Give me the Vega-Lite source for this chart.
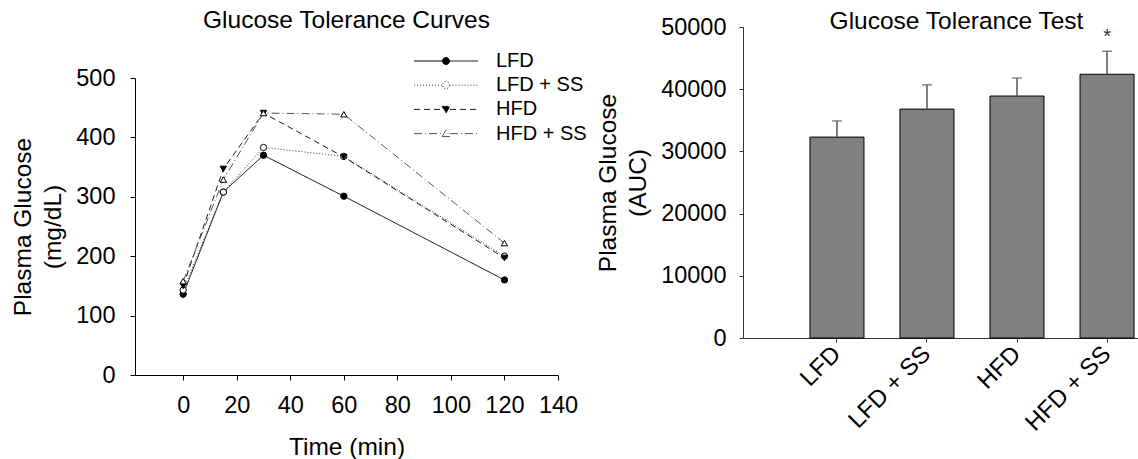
{
  "$schema": "https://vega.github.io/schema/vega-lite/v6.json",
  "background": "white",
  "padding": {"left": 10, "top": 7, "right": 0, "bottom": 0},
  "autosize": {"type": "pad"},
  "spacing": 17,
  "config": {
    "font": "Liberation Sans",
    "view": {"stroke": null},
    "axis": {"grid": false, "domainColor": "#000", "tickColor": "#000", "labelColor": "#000", "titleColor": "#000", "labelFontSize": 23.5, "titleFontSize": 24.5, "titleFontWeight": "normal", "tickSize": 5, "labelFont": "Liberation Sans", "titleFont": "Liberation Sans", "titleLineHeight": 30, "labelOverlap": false, "labelFlush": false},
    "title": {"fontSize": 24.5, "fontWeight": "normal", "color": "#000", "font": "Liberation Sans"},
    "legend": {"orient": "none", "legendX": 301, "legendY": 24, "symbolSize": 100, "labelFontSize": 20, "labelOffset": 40, "rowPadding": 4.2, "padding": 0, "symbolStrokeWidth": 1, "labelColor": "#000000", "labelFont": "Liberation Sans"}
  },
  "hconcat": [
    {
      "title": {"text": "Glucose Tolerance Curves", "offset": -6, "frame": "group"},
      "width": 423,
      "height": 348,
      "data": {"values": [
        {"group": "LFD", "time": 0, "glucose": 136},
        {"group": "LFD", "time": 15, "glucose": 308},
        {"group": "LFD", "time": 30, "glucose": 370},
        {"group": "LFD", "time": 60, "glucose": 301},
        {"group": "LFD", "time": 120, "glucose": 160},
        {"group": "LFD + SS", "time": 0, "glucose": 143},
        {"group": "LFD + SS", "time": 15, "glucose": 308},
        {"group": "LFD + SS", "time": 30, "glucose": 383},
        {"group": "LFD + SS", "time": 60, "glucose": 368},
        {"group": "LFD + SS", "time": 120, "glucose": 200},
        {"group": "HFD", "time": 0, "glucose": 150},
        {"group": "HFD", "time": 15, "glucose": 347},
        {"group": "HFD", "time": 30, "glucose": 441},
        {"group": "HFD", "time": 60, "glucose": 367},
        {"group": "HFD", "time": 120, "glucose": 197},
        {"group": "HFD + SS", "time": 0, "glucose": 158},
        {"group": "HFD + SS", "time": 15, "glucose": 329},
        {"group": "HFD + SS", "time": 30, "glucose": 441},
        {"group": "HFD + SS", "time": 60, "glucose": 439},
        {"group": "HFD + SS", "time": 120, "glucose": 222}
      ]},
      "encoding": {
        "x": {"field": "time", "type": "quantitative", "scale": {"domain": [-18, 140], "nice": false, "zero": false},
          "axis": {"values": [0, 20, 40, 60, 80, 100, 120, 140], "title": "Time (min)", "labelPadding": 13, "titlePadding": 19}},
        "y": {"field": "glucose", "type": "quantitative", "scale": {"domain": [0, 500], "nice": false, "range": [348, 51]},
          "axis": {"values": [0, 100, 200, 300, 400, 500], "title": ["Plasma Glucose", "(mg/dL)"], "labelPadding": 15, "titlePadding": 10}},
        "fill": {"field": "group", "type": "nominal", "scale": {"domain": ["LFD", "LFD + SS", "HFD", "HFD + SS"], "range": ["#000000", "#ffffff", "#000000", "#ffffff"]}, "legend": {"title": null}}
      },
      "layer": [
        {
          "mark": {"type": "line", "strokeWidth": 1},
          "encoding": {
            "fill": {"value": null},
            "strokeDash": {"field": "group", "type": "nominal", "scale": {"domain": ["LFD", "LFD + SS", "HFD", "HFD + SS"], "range": [[1, 0], [1, 2], [6, 4], [8, 3, 1, 3]]}, "legend": {"title": null}},
            "stroke": {"field": "group", "type": "nominal", "scale": {"domain": ["LFD", "LFD + SS", "HFD", "HFD + SS"], "range": ["#000000", "#333333", "#1a1a1a", "#555555"]}, "legend": {"title": null}}
          }
        },
        {
          "transform": [{"filter": {"field": "group", "oneOf": ["LFD", "LFD + SS"]}}],
          "mark": {"type": "point", "shape": "circle", "filled": true, "size": 40, "stroke": "#000000", "strokeWidth": 1, "opacity": 1}
        },
        {
          "transform": [{"filter": {"field": "group", "equal": "HFD"}}],
          "mark": {"type": "point", "shape": "triangle-down", "filled": true, "size": 40, "stroke": "#000000", "strokeWidth": 1, "opacity": 1}
        },
        {
          "transform": [{"filter": {"field": "group", "equal": "HFD + SS"}}],
          "mark": {"type": "point", "shape": "triangle-up", "filled": true, "size": 40, "stroke": "#000000", "strokeWidth": 1, "opacity": 1}
        },
        {
          "mark": {"type": "point", "filled": true, "size": 40, "opacity": 0},
          "encoding": {
            "shape": {"field": "group", "type": "nominal", "scale": {"domain": ["LFD", "LFD + SS", "HFD", "HFD + SS"], "range": [
              "M-6.4,0H-0.7M0.7,0H6.4M0.7,0A0.7,0.7,0,1,1,-0.7,0A0.7,0.7,0,1,1,0.7,0Z",
              "M-6.4,0H-0.7M0.7,0H6.4M0.7,0A0.7,0.7,0,1,1,-0.7,0A0.7,0.7,0,1,1,0.7,0Z",
              "M-6.4,0H-0.8M0.8,0H6.4M-0.8,-0.6L0.8,-0.6L0,0.7Z",
              "M-6.4,0H-0.8M0.8,0H6.4M-0.8,0.6L0.8,0.6L0,-0.7Z"
            ]}, "legend": {"title": null, "orient": "none", "legendX": 301, "legendY": 24}}
          }
        }
      ]
    },
    {
      "title": {"text": "Glucose Tolerance Test", "offset": -19, "dx": 16, "frame": "group"},
      "width": 395,
      "height": 311,
      "data": {"values": [
        {"group": "LFD", "auc": 32300, "upper": 34900, "sig": ""},
        {"group": "LFD + SS", "auc": 36800, "upper": 40700, "sig": ""},
        {"group": "HFD", "auc": 38900, "upper": 41800, "sig": ""},
        {"group": "HFD + SS", "auc": 42400, "upper": 46100, "sig": "*"}
      ]},
      "encoding": {
        "x": {"field": "group", "type": "nominal", "sort": ["LFD", "LFD + SS", "HFD", "HFD + SS"],
          "scale": {"paddingInner": 0.4, "paddingOuter": 0.394, "align": 0.944},
          "axis": {"title": null, "labelAngle": -45, "labelAlign": "right", "labelBaseline": "middle", "labelPadding": 8, "tickSize": 4, "domainColor": "#333333", "tickColor": "#333333", "labelFontSize": 24}}
      },
      "layer": [
        {
          "mark": {"type": "bar", "fill": "#808080", "stroke": "#000000", "strokeWidth": 1},
          "encoding": {
            "y": {"field": "auc", "type": "quantitative", "scale": {"domain": [0, 50000], "nice": false},
              "axis": {"values": [0, 10000, 20000, 30000, 40000, 50000], "format": "d", "title": ["Plasma Glucose", "(AUC)"], "tickSize": 4, "labelPadding": 13, "titlePadding": 10, "domainColor": "#333333", "tickColor": "#333333"}}
          }
        },
        {
          "mark": {"type": "rule", "color": "#555555", "strokeWidth": 1.5},
          "encoding": {
            "y": {"field": "auc", "type": "quantitative"},
            "y2": {"field": "upper"}
          }
        },
        {
          "mark": {"type": "tick", "color": "#555555", "size": 10, "thickness": 1.5},
          "encoding": {
            "y": {"field": "upper", "type": "quantitative"}
          }
        },
        {
          "mark": {"type": "text", "fontSize": 20, "color": "#333333", "baseline": "bottom", "dy": -4},
          "encoding": {
            "y": {"field": "upper", "type": "quantitative"},
            "text": {"field": "sig"}
          }
        }
      ]
    }
  ]
}
